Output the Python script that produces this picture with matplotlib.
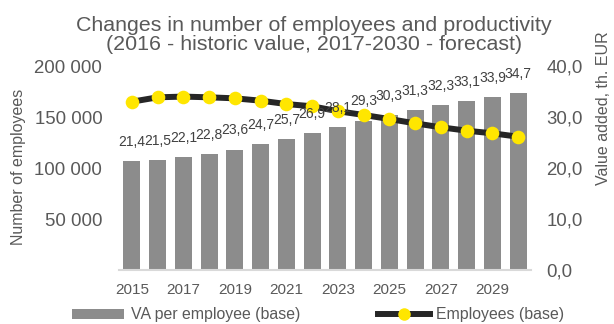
import matplotlib.pyplot as plt
from matplotlib.lines import Line2D
from matplotlib.patches import Patch

plt.rcParams["font.family"] = ["Liberation Sans", "DejaVu Sans"]

years = list(range(2015, 2031))
va_per_employee = [21.4, 21.5, 22.1, 22.8, 23.6, 24.7, 25.7, 26.9,
                   28.1, 29.3, 30.3, 31.3, 32.3, 33.1, 33.9, 34.7]
employees = [165000, 169300, 170000, 169300, 168300, 166000, 162700, 160500,
             155700, 152000, 148000, 143800, 139900, 136600, 134000, 130700]

left_ticks = [50000, 100000, 150000, 200000]
left_labels = ["50 000", "100 000", "150 000", "200 000"]
right_ticks = [0, 10, 20, 30, 40]
right_labels = ["0,0", "10,0", "20,0", "30,0", "40,0"]
x_ticks = list(range(2015, 2030, 2))

TEXT = "#595959"
BAR = "#8c8c8c"
LINE = "#262626"
MARKER = "#ffe600"

fig = plt.figure(figsize=(6.14, 3.24), dpi=100)
ax = fig.add_axes([119 / 614, 1 - 270 / 324, (531 - 119) / 614, (270 - 66) / 324])
ax2 = ax.twinx()

# bars on the right-hand axis (VA per employee)
ax.bar(years, va_per_employee, width=0.66, color=BAR, zorder=1)
ax.set_ylim(0, 40)
ax.set_xlim(2014.5, 2030.5)
ax.yaxis.tick_right()
ax.set_yticks(right_ticks)
ax.set_yticklabels(right_labels)
ax.set_xticks(x_ticks)
ax.set_xticklabels([str(y) for y in x_ticks])
ax.tick_params(axis="y", length=0, pad=11, labelsize=13.4, labelcolor=TEXT)
ax.tick_params(axis="x", length=0, pad=9, labelsize=11, labelcolor=TEXT)
for name, spine in ax.spines.items():
    spine.set_visible(name == "bottom")
ax.spines["bottom"].set_color("#d9d9d9")
ax.spines["bottom"].set_linewidth(1.5)

# employees line on the left-hand axis
ax2.plot(years, employees, color=LINE, linewidth=4.3, marker="o",
         markersize=9.8, markerfacecolor=MARKER, markeredgewidth=0,
         solid_capstyle="round", zorder=3)
ax2.set_ylim(0, 200000)
ax2.yaxis.tick_left()
ax2.set_yticks(left_ticks)
ax2.set_yticklabels(left_labels)
ax2.tick_params(axis="y", length=0, pad=12, labelsize=13.4, labelcolor=TEXT)
for spine in ax2.spines.values():
    spine.set_visible(False)

# value labels sit above the line
for x, v in zip(years, va_per_employee):
    ax2.annotate(f"{v:.1f}".replace(".", ","), xy=(x, v), xycoords=ax.transData,
                 xytext=(0, 13.8), textcoords="offset points",
                 ha="center", va="center", fontsize=10, color="#404040",
                 zorder=5)

fig.text(314 / 614, 1 - 35 / 324,
         "Changes in number of employees and productivity\n"
         "(2016 - historic value, 2017-2030 - forecast)",
         ha="center", va="center", fontsize=15.4, color=TEXT, linespacing=1.02)
fig.text(19 / 614, 1 - 167 / 324, "Number of employees", rotation=90,
         ha="center", va="center", fontsize=11.5, color=TEXT)
fig.text(604 / 614, 1 - 108 / 324, "Value added, th. EUR", rotation=90,
         ha="center", va="center", fontsize=11.5, color=TEXT)

handles = [
    Patch(facecolor=BAR, edgecolor="none", label="VA per employee (base)"),
    Line2D([], [], color=LINE, linewidth=4.3, marker="o", markersize=9,
           markerfacecolor=MARKER, markeredgewidth=0,
           label="Employees (base)"),
]
fig.legend(handles=handles, loc="center left", bbox_to_anchor=(72 / 614, 1 - 315 / 324),
           ncol=2, frameon=False, fontsize=11.4, labelcolor=TEXT,
           handlelength=3.3, handleheight=0.55, handletextpad=0.4,
           columnspacing=4.9, borderpad=0, borderaxespad=0)

fig.savefig("out.png", dpi=100)
